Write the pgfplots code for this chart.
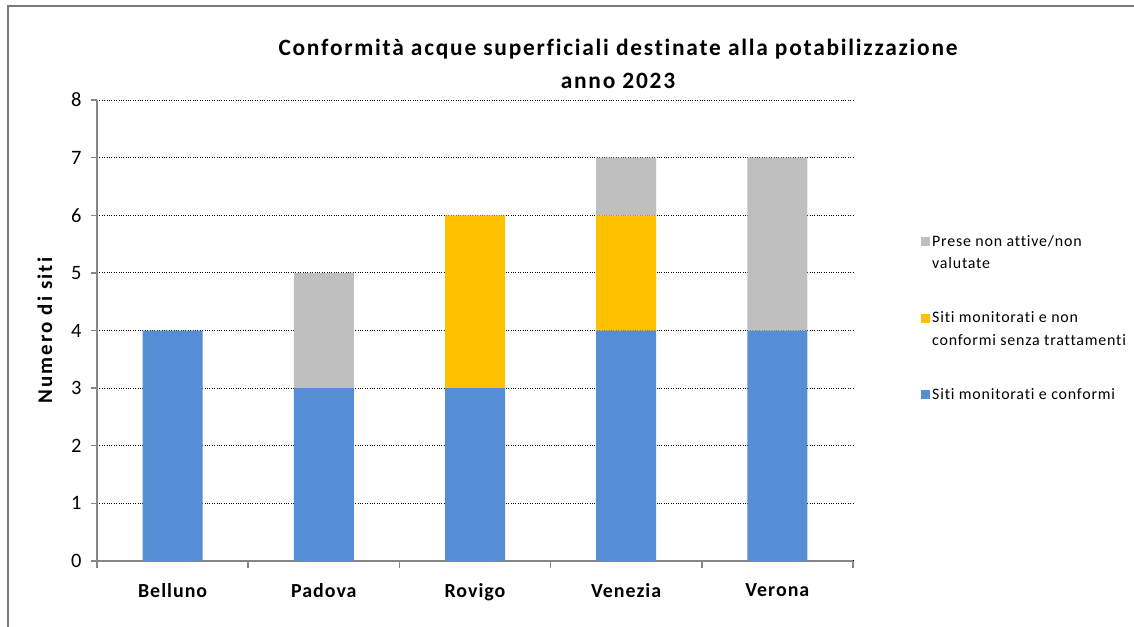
\documentclass[border=0pt]{standalone}
\usepackage{pgfplots}
\pgfplotsset{compat=1.18}
\usepackage{fontspec}
\setmainfont{Carlito}[LetterSpace=5, Ligatures=NoCommon]
\definecolor{cblue}{HTML}{558ED5}
\definecolor{cyellow}{HTML}{FFC000}
\definecolor{cgray}{HTML}{BFBFBF}
\definecolor{caxis}{HTML}{868686}
\newcommand{\twoline}[2]{\vtop{\hbox{#1}\hbox{#2}}}
\begin{document}
\begin{tikzpicture}
\useasboundingbox (0,0) rectangle (1134bp,627bp);
\draw[caxis!90!black, line width=2bp] (8bp,0) -- (8bp,621bp) -- (1134bp,621bp);
\node[font=\fontsize{23.5}{33}\selectfont\bfseries\addfontfeatures{LetterSpace=7.5}, align=center] at (618bp,563bp) {Conformità acque superficiali destinate alla potabilizzazione\\anno 2023};
\begin{axis}[
  at={(97bp,66bp)}, anchor=south west,
  scale only axis, width=756bp, height=461bp,
  ybar stacked, bar width=60bp,
  xmin=-0.5, xmax=4.5, ymin=0, ymax=8,
  xtick={0,1,2,3,4},
  xticklabels={Belluno,Padova,Rovigo,Venezia,Verona},
  minor xtick={-0.5,0.5,1.5,2.5,3.5,4.5},
  major x tick style={draw=none},
  minor tick length=7bp,
  ytick={0,1,...,8}, major tick length=6bp,
  tick align=outside,
  axis x line*=bottom, axis y line*=left,
  axis line style={caxis, line width=1.5bp},
  every tick/.style={caxis, line width=1.5bp},
  ymajorgrids, major grid style={black, dotted, line width=1bp},
  /pgf/number format/assume math mode=true,
  yticklabel style={font=\fontsize{20.5}{24}\selectfont, xshift=-6bp},
  xticklabel style={font=\fontsize{20}{24}\selectfont\bfseries, yshift=-13bp},
  ylabel={Numero di siti},
  ylabel style={font=\fontsize{21}{24}\selectfont\bfseries\addfontfeatures{LetterSpace=10}, at={(axis description cs:-0.069,0.5)}, anchor=center},
  legend style={draw=none, at={(axis description cs:1.086,0.716)}, anchor=north west,
    font=\fontsize{16}{22.5}\selectfont, cells={anchor=base west}, row sep=60bp},
  reverse legend,
  legend image code/.code={\fill[#1] (0bp,0bp) rectangle (9bp,9bp);},
]
\addplot[fill=cblue, draw=none] coordinates {(0,4) (1,3) (2,3) (3,4) (4,4)};
\addlegendentry{Siti monitorati e conformi}
\addplot[fill=cyellow, draw=none] coordinates {(0,0) (1,0) (2,3) (3,2) (4,0)};
\addlegendentry{\twoline{Siti monitorati e non}{conformi senza trattamenti}}
\addplot[fill=cgray, draw=none] coordinates {(0,0) (1,2) (2,0) (3,1) (4,3)};
\addlegendentry{\twoline{Prese non attive/non}{valutate}}
\end{axis}
\end{tikzpicture}
\end{document}
